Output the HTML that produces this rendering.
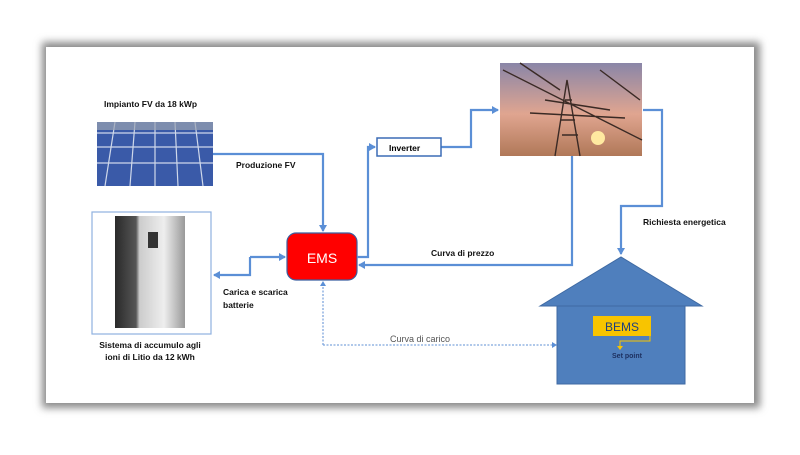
<!DOCTYPE html>
<html><head><meta charset="utf-8"><style>
body{margin:0;width:800px;height:450px;background:#fff;overflow:hidden;font-family:"Liberation Sans",sans-serif}
</style></head><body>
<svg width="800" height="450" viewBox="0 0 800 450" xmlns="http://www.w3.org/2000/svg">
<defs>
<marker id="a" markerWidth="8" markerHeight="8" refX="6" refY="4" orient="auto" markerUnits="userSpaceOnUse"><path d="M0,0 L7,4 L0,8 z" fill="#5b8fd6"/></marker>
<linearGradient id="sky" x1="0" y1="0" x2="0" y2="1"><stop offset="0" stop-color="#8a86a8"/><stop offset="0.55" stop-color="#e0a590"/><stop offset="1" stop-color="#b07858"/></linearGradient>
<linearGradient id="cab" x1="0" y1="0" x2="1" y2="0"><stop offset="0" stop-color="#2a2a2a"/><stop offset="0.3" stop-color="#555"/><stop offset="0.35" stop-color="#ccc"/><stop offset="0.7" stop-color="#eee"/><stop offset="1" stop-color="#999"/></linearGradient>
<filter id="blur" x="-10%" y="-10%" width="120%" height="120%"><feGaussianBlur stdDeviation="4"/></filter>
</defs>
<rect x="42" y="42" width="718" height="366" fill="#8a8a8a" filter="url(#blur)"/>
<rect x="46" y="47" width="708" height="356" fill="#fff"/>
<g font-weight="bold" font-size="8.5" fill="#111">
<text x="104" y="107">Impianto FV da 18 kWp</text>
<text x="236" y="168">Produzione FV</text>
<text x="223" y="295">Carica e scarica</text>
<text x="223" y="308">batterie</text>
<text x="150" y="348" text-anchor="middle">Sistema di accumulo agli</text>
<text x="150" y="360" text-anchor="middle">ioni di Litio da 12 kWh</text>
<text x="431" y="256">Curva di prezzo</text>
<text x="643" y="225">Richiesta energetica</text>
</g>
<!-- solar -->
<rect x="97" y="122" width="116" height="64" fill="#3a5aa8"/>
<g stroke="#cfd8ea" stroke-width="1.2">
<line x1="97" y1="133" x2="213" y2="133"/><line x1="97" y1="147" x2="213" y2="147"/><line x1="97" y1="163" x2="213" y2="163"/>
<line x1="115" y1="122" x2="105" y2="186"/><line x1="135" y1="122" x2="130" y2="186"/><line x1="155" y1="122" x2="155" y2="186"/><line x1="175" y1="122" x2="178" y2="186"/><line x1="195" y1="122" x2="203" y2="186"/>
</g>
<rect x="97" y="122" width="116" height="8" fill="#9aa3b0" opacity="0.7"/>
<!-- battery -->
<rect x="92" y="212" width="119" height="122" fill="#fff" stroke="#8fb1e0" stroke-width="1.2"/>
<rect x="115" y="216" width="70" height="112" fill="url(#cab)"/>
<rect x="148" y="232" width="10" height="16" fill="#333"/>
<!-- EMS -->
<rect x="287" y="233" width="70" height="47" rx="9" fill="#f00" stroke="#3b5fa0" stroke-width="1.2"/>
<text x="322" y="263" text-anchor="middle" fill="#fff" font-size="14">EMS</text>
<!-- connectors -->
<g fill="none" stroke="#5b8fd6" stroke-width="2.2">
<path d="M213,154 H323 V231" marker-end="url(#a)"/>
<path d="M250,257 V275 H214" marker-end="url(#a)"/>
<path d="M250,257 H285" marker-end="url(#a)"/>
<path d="M357,257 H368 V147 H375" marker-end="url(#a)"/>
<path d="M441,147 H471 V110 H498" marker-end="url(#a)"/>
<path d="M572,156 V265 H359" marker-end="url(#a)"/>
<path d="M643,110 H662 V206 H621 V254" marker-end="url(#a)"/>
</g>
<path d="M323,345 V283 M323,345 H554" fill="none" stroke="#7fa6dd" stroke-width="1.3" stroke-dasharray="2,1.5"/>
<path d="M323,281 l-3,5 h6z M557,345 l-5,-3 v6z" fill="#5b8fd6"/>
<text x="390" y="342" font-size="9" fill="#555">Curva di carico</text>
<!-- inverter -->
<rect x="377" y="138" width="64" height="18" fill="#fff" stroke="#3b6cb5" stroke-width="1.5"/>
<text x="389" y="151" font-size="8.5" font-weight="bold">Inverter</text>
<!-- pylon -->
<rect x="500" y="63" width="142" height="93" fill="url(#sky)"/>
<circle cx="598" cy="138" r="7" fill="#ffe9a0"/>
<g stroke="#3a2a25" stroke-width="1.4" fill="none">
<path d="M555,156 L567,80 L580,156 M560,120 L575,120 M545,100 L610,110 M530,113 L625,118 M503,70 L642,140 M520,63 L560,90 M600,70 L640,100 M562,135 L578,135 M565,100 L572,100"/>
</g>
<!-- house -->
<path d="M540,306 L621,257 L702,306 Z" fill="#4f7fbd" stroke="#3f6aa3"/>
<rect x="557" y="306" width="128" height="78" fill="#4f7fbd" stroke="#3f6aa3"/>
<rect x="593" y="316" width="58" height="20" fill="#f8c400"/>
<text x="622" y="331" text-anchor="middle" font-size="12" fill="#1d3f80">BEMS</text>
<path d="M650,336 V341 H620 V347" fill="none" stroke="#f8c400" stroke-width="1"/>
<path d="M617,346 h6 l-3,4z" fill="#f8c400"/>
<text x="627" y="358" text-anchor="middle" font-size="7" font-weight="bold" fill="#1d3060">Set point</text>
</svg>
</body></html>
